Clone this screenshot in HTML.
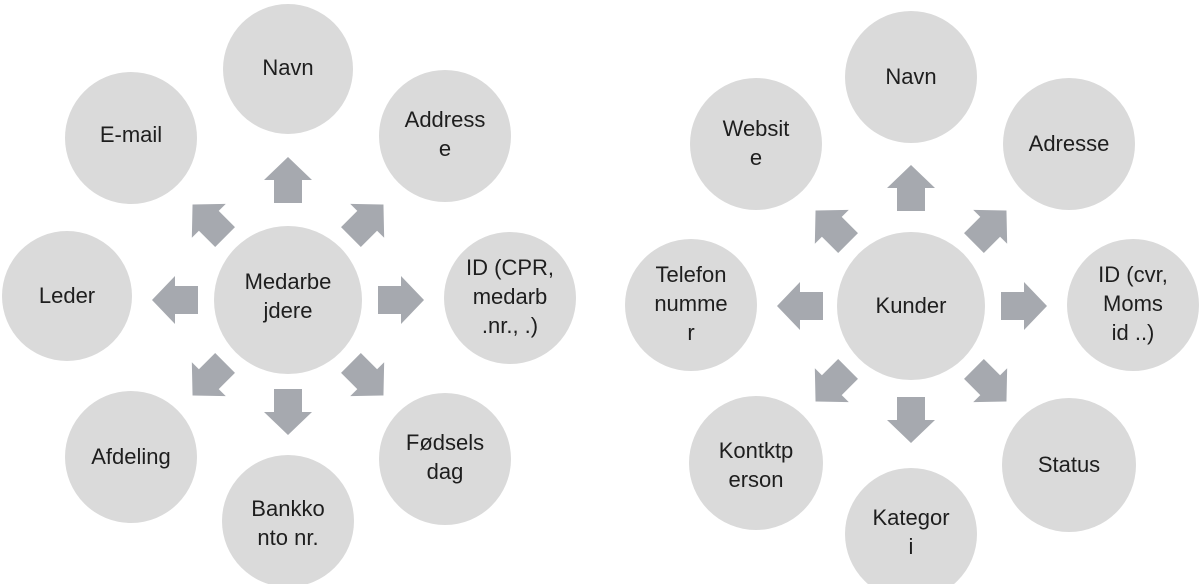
<!DOCTYPE html>
<html><head><meta charset="utf-8"><style>
html,body{margin:0;padding:0;background:#fff;}
svg{display:block;}
text{font-family:"Liberation Sans",sans-serif;font-size:22px;fill:#1e1e1e;text-anchor:middle;}
</style></head><body>
<svg width="1200" height="584" viewBox="0 0 1200 584" xmlns="http://www.w3.org/2000/svg">
<defs>
<polygon id="ar" points="0,-23 24,0 14,0 14,23 -14,23 -14,0 -24,0" fill="#a6a9af"/>
</defs>
<g fill="#dadada">
<circle cx="288" cy="69" r="65"/>
<circle cx="445" cy="136" r="66"/>
<circle cx="131" cy="138" r="66"/>
<circle cx="67" cy="296" r="65"/>
<circle cx="288" cy="300" r="74"/>
<circle cx="510" cy="298" r="66"/>
<circle cx="131" cy="457" r="66"/>
<circle cx="445" cy="459" r="66"/>
<circle cx="288" cy="521" r="66"/>
<circle cx="911" cy="77" r="66"/>
<circle cx="1069" cy="144" r="66"/>
<circle cx="756" cy="144" r="66"/>
<circle cx="691" cy="305" r="66"/>
<circle cx="911" cy="306" r="74"/>
<circle cx="1133" cy="305" r="66"/>
<circle cx="756" cy="463" r="67"/>
<circle cx="1069" cy="465" r="67"/>
<circle cx="911" cy="534" r="66"/>
</g>
<g transform="translate(288,300)">
<use href="#ar" transform="rotate(0) translate(0,-120)"/>
<use href="#ar" transform="rotate(45) translate(0,-112)"/>
<use href="#ar" transform="rotate(90) translate(0,-113)"/>
<use href="#ar" transform="rotate(135) translate(0,-112)"/>
<use href="#ar" transform="rotate(180) translate(0,-112)"/>
<use href="#ar" transform="rotate(225) translate(0,-112)"/>
<use href="#ar" transform="rotate(270) translate(0,-113)"/>
<use href="#ar" transform="rotate(315) translate(0,-112)"/>
</g>
<g transform="translate(911,306)">
<use href="#ar" transform="rotate(0) translate(0,-118)"/>
<use href="#ar" transform="rotate(45) translate(0,-112)"/>
<use href="#ar" transform="rotate(90) translate(0,-113)"/>
<use href="#ar" transform="rotate(135) translate(0,-112)"/>
<use href="#ar" transform="rotate(180) translate(0,-114)"/>
<use href="#ar" transform="rotate(225) translate(0,-112)"/>
<use href="#ar" transform="rotate(270) translate(0,-111)"/>
<use href="#ar" transform="rotate(315) translate(0,-112)"/>
</g>
<text x="288" y="75">Navn</text>
<text x="445" y="127">Address</text><text x="445" y="156">e</text>
<text x="131" y="142">E-mail</text>
<text x="67" y="303">Leder</text>
<text x="288" y="289">Medarbe</text><text x="288" y="318">jdere</text>
<text x="510" y="275">ID (CPR,</text><text x="510" y="304">medarb</text><text x="510" y="333">.nr., .)</text>
<text x="131" y="464">Afdeling</text>
<text x="445" y="450">Fødsels</text><text x="445" y="479">dag</text>
<text x="288" y="516">Bankko</text><text x="288" y="545">nto nr.</text>
<text x="911" y="84">Navn</text>
<text x="1069" y="151">Adresse</text>
<text x="756" y="136">Websit</text><text x="756" y="165">e</text>
<text x="691" y="282">Telefon</text><text x="691" y="311">numme</text><text x="691" y="340">r</text>
<text x="911" y="313">Kunder</text>
<text x="1133" y="282">ID (cvr,</text><text x="1133" y="311">Moms</text><text x="1133" y="340">id ..)</text>
<text x="756" y="458">Kontktp</text><text x="756" y="487">erson</text>
<text x="1069" y="472">Status</text>
<text x="911" y="525">Kategor</text><text x="911" y="554">i</text>
</svg>
</body></html>
